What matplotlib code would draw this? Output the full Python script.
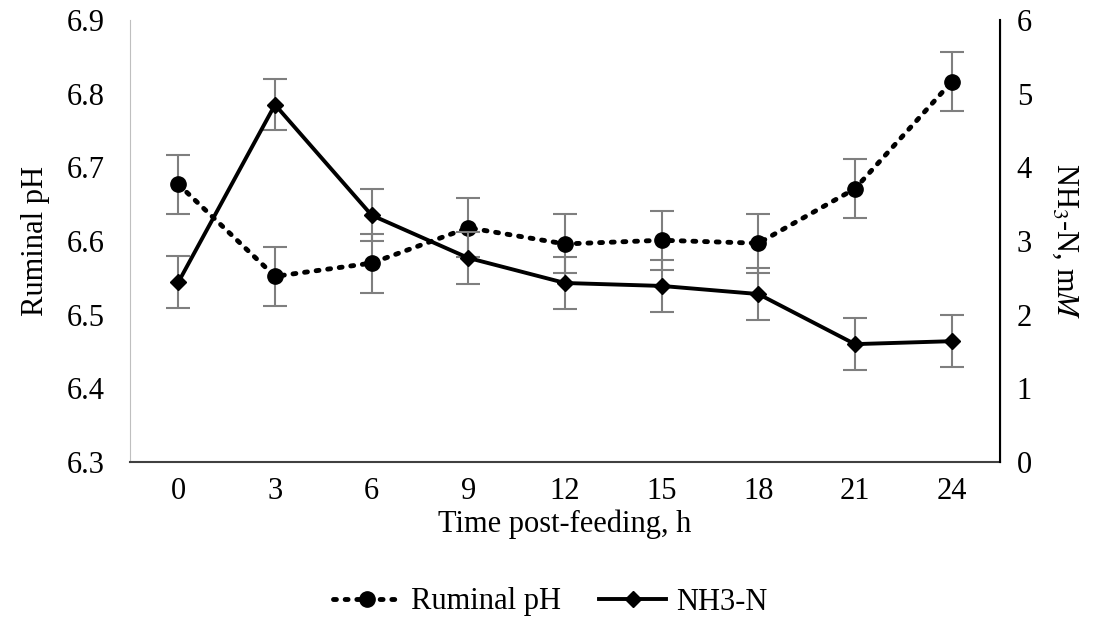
import matplotlib
matplotlib.use("Agg")
import matplotlib.pyplot as plt

# Data
hours = ["0", "3", "6", "9", "12", "15", "18", "21", "24"]
ph_mean = [6.677, 6.552, 6.570, 6.618, 6.596, 6.601, 6.597, 6.671, 6.816]
ph_err = [0.04, 0.04, 0.04, 0.04, 0.04, 0.04, 0.04, 0.04, 0.04]
nh3_mean = [2.44, 4.85, 3.35, 2.77, 2.43, 2.39, 2.28, 1.60, 1.64]
nh3_err = [0.35, 0.35, 0.35, 0.35, 0.35, 0.35, 0.35, 0.35, 0.35]

plt.rcParams['font.family'] = ['Liberation Serif', 'DejaVu Serif']
plt.rcParams['mathtext.fontset'] = 'stix'
fs = 22

fig = plt.figure(figsize=(11.01, 6.36), dpi=100)
ax = fig.add_axes([130 / 1101, 1 - 462 / 636, 870 / 1101, 442 / 636])
ax2 = ax.twinx()

x = list(range(len(hours)))

# Ruminal pH on the left axis
ax.errorbar(x, ph_mean, yerr=ph_err, fmt='none', ecolor='#7f7f7f',
            elinewidth=1.5, capsize=8.5, capthick=1.5, zorder=2)
l1, = ax.plot(x, ph_mean, color='black', linestyle=(0, (0.6, 1.8)),
              dash_capstyle='round', linewidth=3.5, marker='o',
              markersize=11, zorder=3, label='Ruminal pH')

# NH3-N on the right axis
ax2.errorbar(x, nh3_mean, yerr=nh3_err, fmt='none', ecolor='#7f7f7f',
             elinewidth=1.5, capsize=8.5, capthick=1.5, zorder=2)
l2, = ax2.plot(x, nh3_mean, color='black', linestyle='-', linewidth=2.8,
               marker='D', markersize=8, zorder=3, label='NH3-N')

ax.set_xlim(-0.5, len(hours) - 0.5)
ax.set_ylim(6.3, 6.9)
ax2.set_ylim(0, 6)
ax.set_xticks(x)
ax.set_xticklabels(hours)
ax.set_yticks([6.3, 6.4, 6.5, 6.6, 6.7, 6.8, 6.9])
ax.set_yticklabels(['6.3', '6.4', '6.5', '6.6', '6.7', '6.8', '6.9'])
ax2.set_yticks(range(0, 7))

for a in (ax, ax2):
    a.tick_params(length=0, labelsize=fs, colors='black')
    a.spines['top'].set_visible(False)
ax.tick_params(axis='x', pad=11)
ax.tick_params(axis='y', pad=18)
ax2.tick_params(axis='y', pad=12)

ax.spines['left'].set_color('#bfbfbf')
ax.spines['bottom'].set_color('#404040')
ax.spines['bottom'].set_linewidth(1.5)
ax2.spines['left'].set_visible(False)
ax2.spines['bottom'].set_visible(False)
ax2.spines['right'].set_color('black')
ax2.spines['right'].set_linewidth(1.5)

ax.set_xlabel('Time post-feeding, h', fontsize=fs, labelpad=2)
ax.set_ylabel('Ruminal pH', fontsize=fs, labelpad=12)
ax2.set_ylabel(r'NH$_3$-N, m$\mathit{M}$', fontsize=fs, rotation=270, labelpad=34)

fig.legend(handles=[l1, l2], loc='center', bbox_to_anchor=(0.5, 1 - 602 / 636),
           ncol=2, frameon=False, fontsize=fs, handlelength=2.2,
           columnspacing=1.25, handletextpad=0.33)

fig.savefig('out.png', dpi=100)
